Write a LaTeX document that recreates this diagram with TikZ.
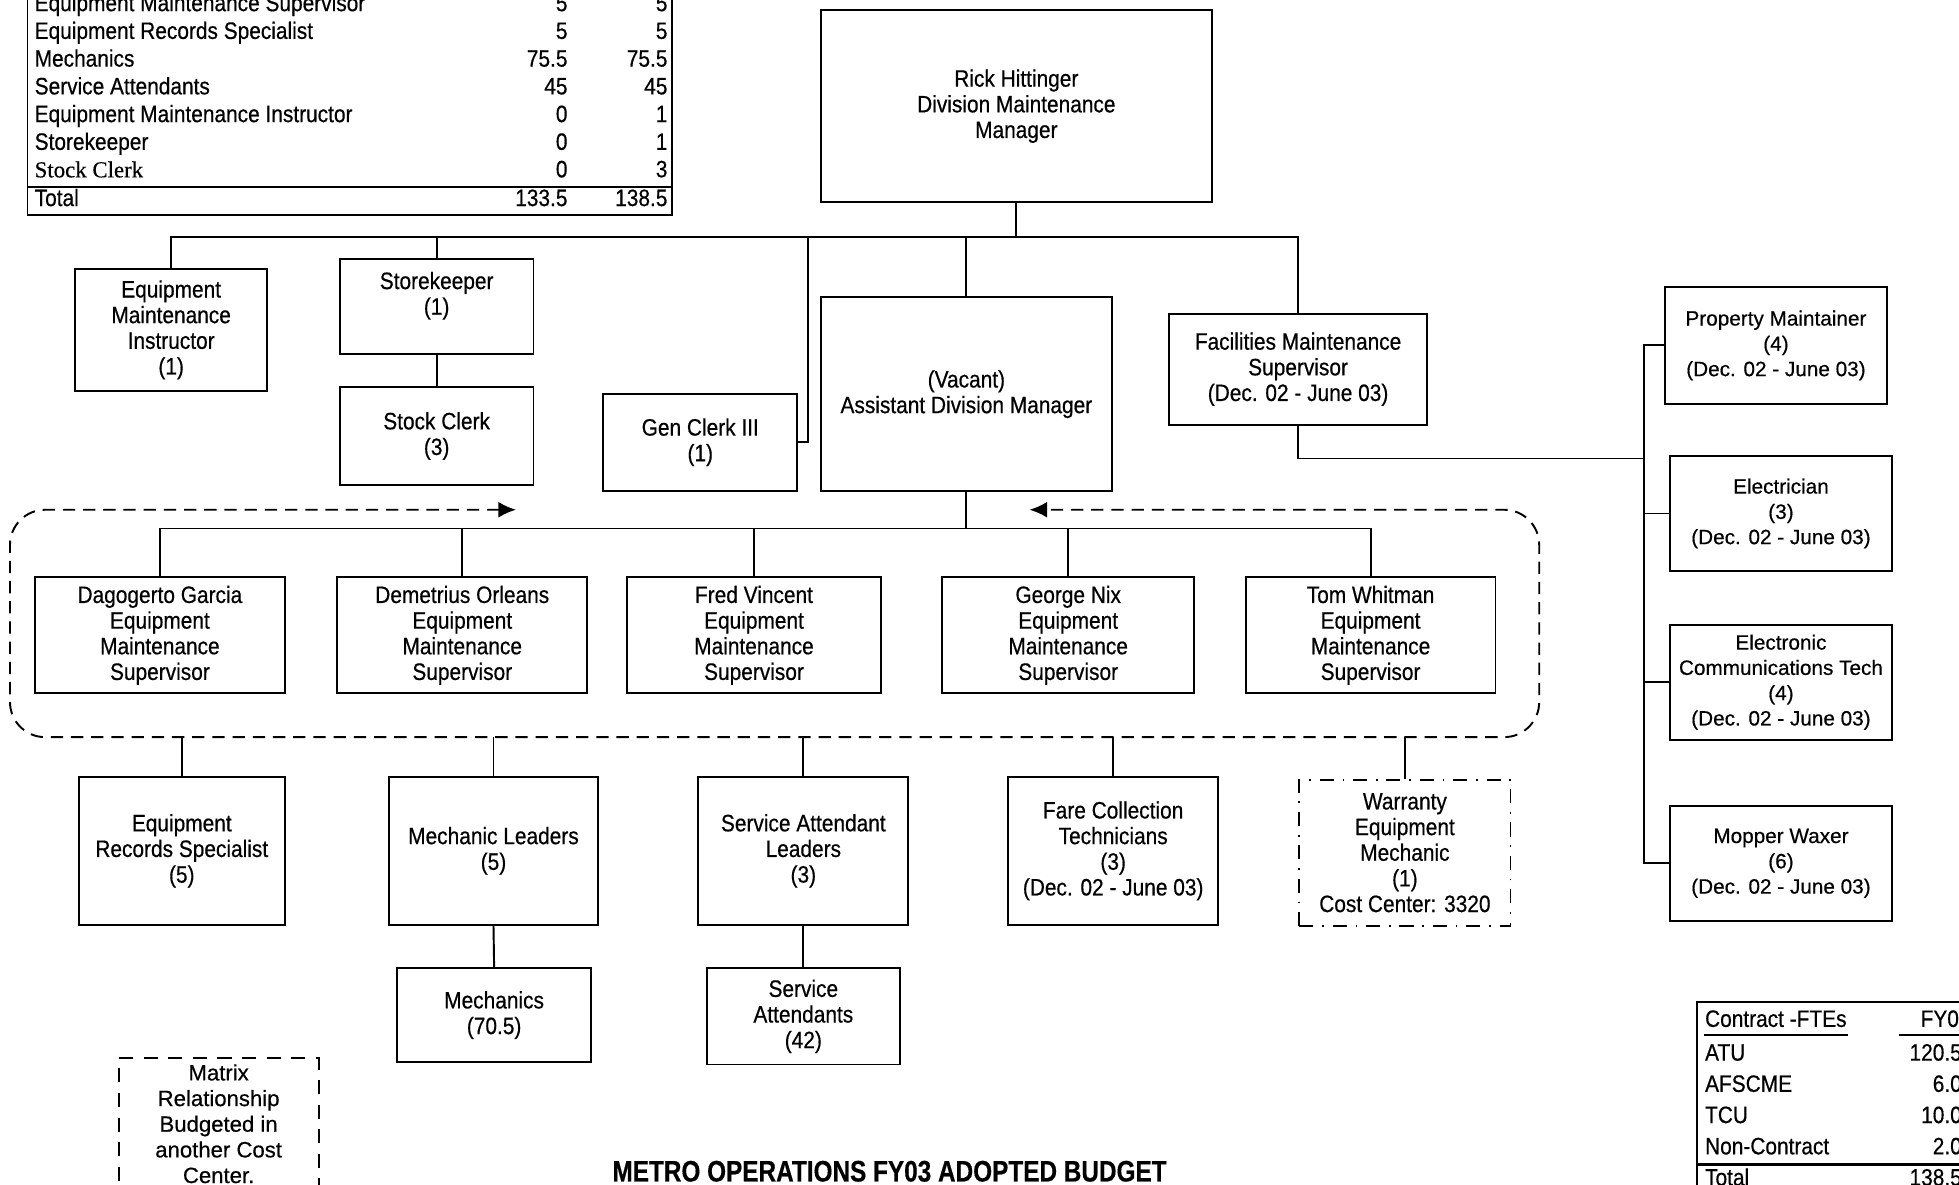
\documentclass[tikz,border=0pt]{standalone}
\usepackage{fontspec}
\setmainfont{Liberation Sans}
\newfontfamily\narrowsans[FakeStretch=0.88,FakeBold=0.5]{Liberation Sans}
\newfontfamily\widesans[FakeBold=0.5]{Liberation Sans}
\newfontfamily\titlesans[FakeStretch=0.82,FakeBold=0.4]{Liberation Sans}
\newfontfamily\clerkserif[FakeBold=0.4]{Liberation Serif}
\usetikzlibrary{arrows.meta}
\newcommand{\boxfont}{\narrowsans\fontsize{13.5}{14.6}\selectfont}
\newcommand{\widefont}{\widesans\fontsize{11.8}{14.4}\selectfont}

\begin{document}
\begin{tikzpicture}[x=0.025cm,y=-0.025cm,line width=1.1pt,
  >={Latex[length=10pt,width=9pt]},
  box/.style={draw,line width=1.1pt,inner sep=0pt,align=center,font=\boxfont},
  widebox/.style={box,font=\widefont},
  sz/.style 2 args={minimum width=#1*0.025cm,minimum height=#2*0.025cm},
  cell/.style={inner sep=0pt,font=\boxfont,text height=9.6pt,text depth=2.6pt},
  matrixline/.style={line width=1.1pt,dash pattern=on 7pt off 4.5pt},
  warrline/.style={dash pattern=on 8pt off 5pt on 1pt off 5pt},
  legendline/.style={dash pattern=on 8pt off 6pt}]
\useasboundingbox (0,0) rectangle (1568,948);
\clip (0,0) rectangle (1568,948);
% Budget table (top left)
\draw (22,-20) -- (22,172) -- (538,172) -- (538,-20);
\draw (22,150) -- (538,150);
\foreach \job/\old/\new [count=\i] in {Equipment Maintenance Supervisor/5/5,
    Equipment Records Specialist/5/5, Mechanics/75.5/75.5, Service Attendants/45/45,
    Equipment Maintenance Instructor/0/1, Storekeeper/0/1}
  {\node[cell,anchor=west] (pos\i) at (27,{4+22.2*(\i-1)}) {\job};
   \node[cell,anchor=east] (old\i) at (455,{4+22.2*(\i-1)}) {\old};
   \node[cell,anchor=east] (new\i) at (535,{4+22.2*(\i-1)}) {\new};}
\node[cell,anchor=west,font=\clerkserif\fontsize{13}{14}\selectfont] (pos7) at (27,137) {Stock Clerk};
\node[cell,anchor=east] (old7) at (455,137) {0};
\node[cell,anchor=east] (new7) at (535,137) {3};
\node[cell,anchor=west] (pos8) at (27,160) {Total};
\node[cell,anchor=east] (old8) at (455,160) {133.5};
\node[cell,anchor=east] (new8) at (535,160) {138.5};
% Top level
\node[box,sz={313}{154}] (rick) at (813.5,85) {Rick Hittinger\\Division Maintenance\\Manager};
\node[box,sz={154}{98}] (instr) at (137,264) {Equipment\\Maintenance\\Instructor\\(1)};
\node[box,sz={155}{76}] (store) at (349.5,245) {Storekeeper\\(1)\\\mbox{}};
\node[box,sz={155}{78}] (stock) at (349.5,349) {Stock Clerk\\(3)};
\node[box,sz={155}{78}] (gen) at (560.5,354) {Gen Clerk III\\(1)};
\node[box,sz={233}{155}] (asst) at (773.5,315.5) {(Vacant)\\Assistant Division Manager};
\node[box,sz={206}{89}] (fac) at (1039,295.5) {Facilities Maintenance\\Supervisor\\(Dec. 02 - June 03)};
% Facilities crews
\node[widebox,sz={177}{93}] (prop) at (1421.5,276.5) {Property Maintainer\\(4)\\(Dec. 02 - June 03)};
\node[widebox,sz={177}{92}] (elec) at (1425.5,411) {Electrician\\(3)\\(Dec. 02 - June 03)};
\node[widebox,sz={177}{92}] (ect) at (1425.5,546) {Electronic\\Communications Tech\\(4)\\(Dec. 02 - June 03)};
\node[widebox,sz={177}{92}] (mop) at (1425.5,691) {Mopper Waxer\\(6)\\(Dec. 02 - June 03)};
% Supervisors
\node[box,sz={200}{93}] (garcia) at (128,508.5) {Dagogerto Garcia\\Equipment\\Maintenance\\Supervisor};
\node[box,sz={200}{93}] (orleans) at (370,508.5) {Demetrius Orleans\\Equipment\\Maintenance\\Supervisor};
\node[box,sz={203}{93}] (vincent) at (603.5,508.5) {Fred Vincent\\Equipment\\Maintenance\\Supervisor};
\node[box,sz={202}{93}] (nix) at (855,508.5) {George Nix\\Equipment\\Maintenance\\Supervisor};
\node[box,sz={200}{93}] (whitman) at (1097,508.5) {Tom Whitman\\Equipment\\Maintenance\\Supervisor};
% Shop staff
\node[box,sz={165}{118}] (recs) at (145.5,681) {Equipment\\Records Specialist\\(5)};
\node[box,sz={168}{118}] (mlead) at (395,681) {Mechanic Leaders\\(5)};
\node[box,sz={168}{118}] (salead) at (643,681) {Service Attendant\\Leaders\\(3)};
\node[box,sz={168}{118}] (fare) at (891,681) {Fare Collection\\Technicians\\(3)\\(Dec. 02 - June 03)};
\node[box,sz={169}{117},warrline] (warr) at (1124.5,682.5) {Warranty\\Equipment\\Mechanic\\(1)\\Cost Center: 3320};
\node[box,sz={155}{75}] (mech) at (395.5,812.5) {Mechanics\\(70.5)};
\node[box,sz={154}{77}] (satt) at (643,813.5) {Service\\Attendants\\(42)};
% Legend and title
\node[box,sz={160}{105},legendline,font=\widesans\fontsize{12.6}{14.6}\selectfont] (legend) at (175,899.5) {Matrix\\Relationship\\Budgeted in\\another Cost\\Center.};
\node[inner sep=0pt,font=\titlesans\bfseries\fontsize{16.9}{18}\selectfont] (title) at (712,937.5) {METRO OPERATIONS FY03 ADOPTED BUDGET};
% Contract table (bottom right)
\draw (1358,960) -- (1358,802) -- (1600,802);
\draw[line width=1.3pt] (1358,932) -- (1600,932);
\node[cell,anchor=west] (fteh) at (1364,817) {Contract -FTEs};
\node[cell,anchor=east] (fyh) at (1578,817) {FY03};
\draw ([yshift=-1.5pt]fteh.south west) -- ([yshift=-1.5pt]fteh.south east);
\draw ([yshift=-1.5pt,xshift=-12pt]fyh.south west) -- ([yshift=-1.5pt]fyh.south east);
\foreach \grp/\val [count=\i] in {ATU/120.5, AFSCME/6.0, TCU/10.0, Non-Contract/2.0, Total/138.5}
  {\node[cell,anchor=west] (grp\i) at (1364,{844+25*(\i-1)}) {\grp};
   \node[cell,anchor=east] (val\i) at (1571,{844+25*(\i-1)}) {\val};}
% Connectors
\coordinate (busA) at (813.5,190);
\draw (rick.south) -- (busA);
\draw (instr.north) |- (busA) -| (fac.north);
\draw (store.north) -- (store.north |- busA);
\draw (asst.north) -- (asst.north |- busA);
\coordinate (genJ) at (647,190);
\draw (gen.east) -| (genJ);
\draw (store.south) -- (stock.north);
\coordinate (busR) at (1316,367);
\draw (fac.south) |- (busR);
\draw (prop.west) -| (mop.west -| busR) -- (mop.west);
\draw (elec.west) -- (elec.west -| busR);
\draw (ect.west) -- (ect.west -| busR);
\coordinate (busB) at (773.5,423);
\draw (asst.south) -- (busB);
\draw (garcia.north) |- (busB) -| (whitman.north);
\draw (orleans.north) -- (orleans.north |- busB);
\draw (vincent.north) -- (vincent.north |- busB);
\draw (nix.north) -- (nix.north |- busB);
% Matrix frame
\coordinate (mxL) at (413,408);
\coordinate (mxR) at (824,408);
\draw[matrixline,<->,rounded corners=20pt] (mxL) -- (8,408) -- (8,590) -- (1232,590) -- (1232,408) -- (mxR);
\coordinate (frameS) at (0,590);
\draw (recs.north) -- (recs.north |- frameS);
\draw (mlead.north) -- (mlead.north |- frameS);
\draw (salead.north) -- (salead.north |- frameS);
\draw (fare.north) -- (fare.north |- frameS);
\draw (warr.north) -- (warr.north |- frameS);
\draw (mlead.south) -- (mech.north);
\draw (salead.south) -- (satt.north);
\end{tikzpicture}
\end{document}
